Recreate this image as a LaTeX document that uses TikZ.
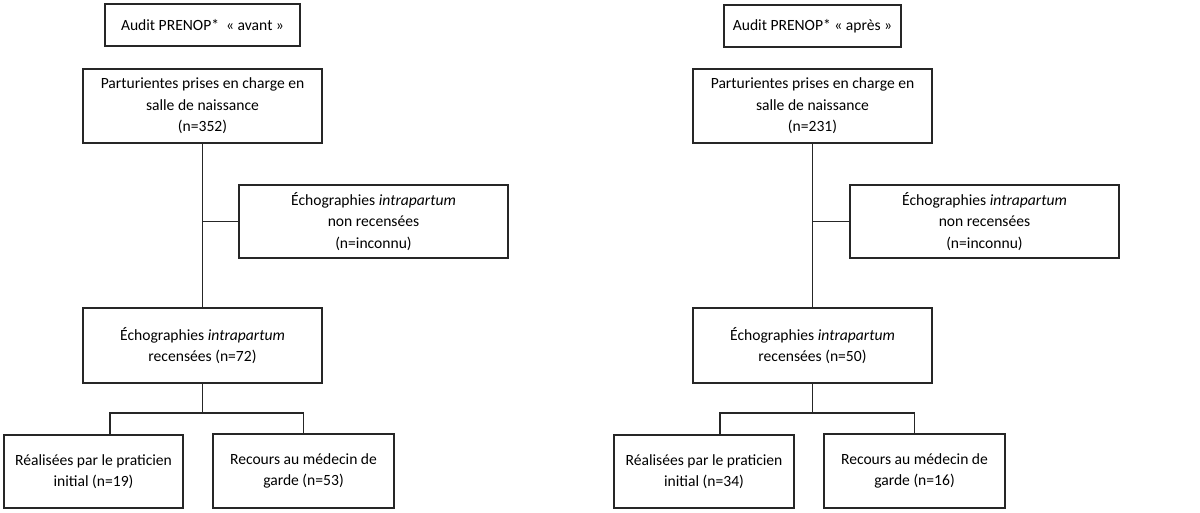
\documentclass[tikz,border=0pt]{standalone}
\usepackage{fontspec}
\setmainfont{Carlito}
\begin{document}
\begin{tikzpicture}[x=0.5pt,y=-0.5pt,
  box/.style={draw=black!85,line width=0.55pt,inner sep=0pt,align=center,
    font=\fontsize{7.8pt}{10.7pt}\selectfont},
  link/.style={draw=black!85,line width=0.55pt}]
\useasboundingbox (0,0) rectangle (1200,513);
% left column
\node[box,minimum width=97.5pt,minimum height=21pt] (auditA) at (202.5,25) {Audit PRENOP*\ \ «~avant~»};
\node[box,minimum width=119.5pt,minimum height=37pt] (partA) at (202.5,106) {Parturientes prises en charge en\\salle de naissance\\(n=352)};
\node[box,minimum width=134.5pt,minimum height=36.5pt] (nonA) at (373.5,221.5) {Échographies \emph{intrapartum}\\non recensées\\(n=inconnu)};
\node[box,minimum width=119.5pt,minimum height=37.5pt] (recA) at (202.5,345.5) {Échographies \emph{intrapartum}\\recensées (n=72)};
\node[box,minimum width=89.5pt,minimum height=36.5pt] (realA) at (93.5,471.5) {Réalisées par le praticien\\initial (n=19)};
\node[box,minimum width=90.5pt,minimum height=37pt] (courA) at (303.5,471) {Recours au médecin de\\garde (n=53)};
\coordinate (dA) at (110,413);
\draw[link] (partA.south) -- (recA.north);
\draw[link] (nonA.west) -- (nonA.west -| partA.south);
\draw[link] (recA.south) -- (recA.south |- dA);
\draw[link] (dA |- realA.north) -- (dA) -| (courA.north);
% right column
\node[box,minimum width=88.5pt,minimum height=21pt] (auditB) at (812.5,26) {Audit PRENOP* «~après~»};
\node[box,minimum width=119.5pt,minimum height=37pt] (partB) at (812.5,106) {Parturientes prises en charge en\\salle de naissance\\(n=231)};
\node[box,minimum width=134.5pt,minimum height=36.5pt] (nonB) at (984.5,221.5) {Échographies \emph{intrapartum}\\non recensées\\(n=inconnu)};
\node[box,minimum width=119.5pt,minimum height=37.5pt] (recB) at (812.5,345.5) {Échographies \emph{intrapartum}\\recensées (n=50)};
\node[box,minimum width=90pt,minimum height=36.5pt] (realB) at (704,471.5) {Réalisées par le praticien\\initial (n=34)};
\node[box,minimum width=90.5pt,minimum height=37pt] (courB) at (914.5,471) {Recours au médecin de\\garde (n=16)};
\coordinate (dB) at (720,413);
\draw[link] (partB.south) -- (recB.north);
\draw[link] (nonB.west) -- (nonB.west -| partB.south);
\draw[link] (recB.south) -- (recB.south |- dB);
\draw[link] (dB |- realB.north) -- (dB) -| (courB.north);
\end{tikzpicture}
\end{document}
